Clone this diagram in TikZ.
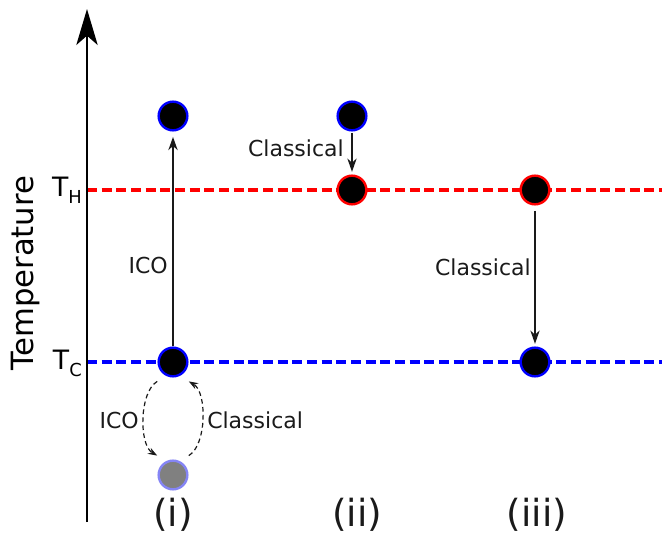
\documentclass[tikz,border=0pt]{standalone}
\usepackage{fontspec}
\setmainfont{DejaVu Sans}
\usetikzlibrary{arrows.meta}

\definecolor{LevelHot}{HTML}{FF0000}
\definecolor{LevelCold}{HTML}{0000FF}
\definecolor{DotGrey}{HTML}{808080}
\definecolor{DotRim}{HTML}{8585F5}
\definecolor{PathInk}{HTML}{1A1A1A}

\begin{document}
\begin{tikzpicture}[x=0.75pt,y=0.75pt,
    site/.style={circle,fill=black,draw=#1,line width=1.8pt,minimum size=21.5pt,inner sep=0pt},
    tline/.style={#1,dash pattern=on 7.5pt off 3.5pt,line width=2.6pt},
    jump/.style={PathInk,line width=1.2pt,-{Stealth[length=10pt,width=7pt]}},
    swaparrow/.style={PathInk,line width=0.9pt,dash pattern=on 3.5pt off 2.5pt,
      shorten <=8pt,shorten >=8pt,-{Stealth[length=7pt,width=5pt]}},
    tag/.style={font=\fontsize{16.5}{16.5}\selectfont,inner sep=0pt,text=PathInk},
    column/.style={font=\fontsize{28}{28}\selectfont,inner sep=0pt,text=PathInk}]
    \useasboundingbox (0,0) rectangle (662,537);

    \coordinate (axbot) at (87,15);
    \coordinate (axtop) at (87,528);
    \coordinate (hotend) at (662,347);
    \coordinate (coldend) at (662,175);

    \draw[tline=LevelHot] (87,347) -- (hotend);
    \draw[tline=LevelCold] (87,175) -- (coldend);
    \draw[line width=1.5pt,-{Stealth[length=27pt,width=16pt,inset=7pt]}] (axbot) -- (axtop);

    \node[rotate=90,anchor=base,font=\fontsize{23}{23}\selectfont,inner sep=0pt] (temp) at (33,264) {Temperature};
    \node[anchor=base east,font=\fontsize{20}{20}\selectfont,inner sep=0pt] (th) at (82,340)
      {T\raisebox{-4.5pt}{\fontsize{13.4}{13.4}\selectfont H}};
    \node[anchor=base east,font=\fontsize{20}{20}\selectfont,inner sep=0pt] (tc) at (82,167)
      {T\raisebox{-4.5pt}{\fontsize{13.4}{13.4}\selectfont C}};

    \node[site=LevelCold] (itop) at (173,421) {};
    \node[site=LevelCold] (icold) at (173,175) {};
    \node[site=DotRim,fill=DotGrey] (ilow) at (173,62) {};
    \node[site=LevelCold] (iitop) at (352,421) {};
    \node[site=LevelHot] (iihot) at (352,347) {};
    \node[site=LevelHot] (iiihot) at (535,347) {};
    \node[site=LevelCold] (iiicold) at (535,175) {};

    \draw[jump,shorten >=4pt] (icold) -- (itop);
    \draw[jump,shorten <=1pt,shorten >=2pt] (iitop) -- (iihot);
    \draw[jump,shorten <=4pt,shorten >=2pt] (iiihot) -- (iiicold);
    \draw[swaparrow] (icold.245) .. controls (139,145) and (139,92) .. (ilow.115);
    \draw[swaparrow] (ilow.65) .. controls (207,92) and (207,145) .. (icold.295);

    \node[tag,anchor=east] (icoup) at (168,272) {ICO};
    \node[tag,anchor=east] (clii) at (344,389) {Classical};
    \node[tag,anchor=east] (cliii) at (531,270) {Classical};
    \node[tag,anchor=east] (icolow) at (139,117) {ICO};
    \node[tag,anchor=west] (cllow) at (207,117) {Classical};

    \node[column] (coli) at (173,22) {(i)};
    \node[column] (colii) at (357,22) {(ii)};
    \node[column] (coliii) at (537,22) {(iii)};
\end{tikzpicture}
\end{document}
